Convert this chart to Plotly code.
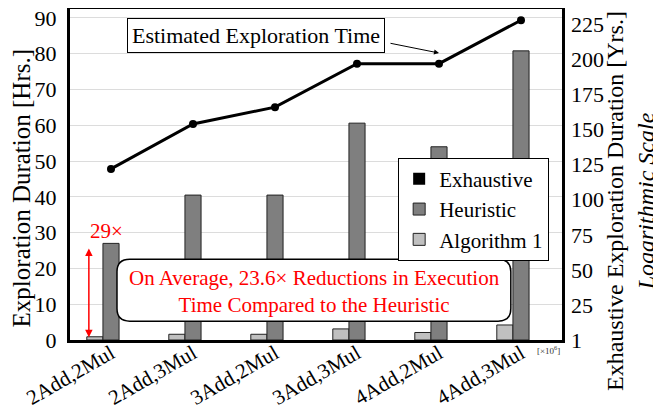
import plotly.graph_objects as go

categories = ["2Add,2Mul", "2Add,3Mul", "3Add,2Mul", "3Add,3Mul", "4Add,2Mul", "4Add,3Mul"]
heuristic_hrs = [27.0, 40.5, 40.5, 60.6, 54.0, 80.8]
algorithm1_hrs = [0.9, 1.6, 1.6, 3.1, 2.1, 4.2]
exhaustive_yrs = [122, 154, 166, 197, 197, 228]
exhaustive_bar_placeholder = [0, 0, 0, 0, 0, 0]
left_tickvals = [0, 10, 20, 30, 40, 50, 60, 70, 80, 90]
right_tickvals = [0, 25, 50, 75, 100, 125, 150, 175, 200, 225]
right_ticktext = ["1", "25", "50", "75", "100", "125", "150", "175", "200", "225"]

FONT = "Liberation Serif"

fig = go.Figure()
fig.add_trace(go.Bar(x=categories, y=algorithm1_hrs, name="Algorithm 1",
                     marker=dict(color="#c0c0c0", line=dict(color="#222", width=1)),
                     legendrank=3))
fig.add_trace(go.Bar(x=categories, y=heuristic_hrs, name="Heuristic",
                     marker=dict(color="#7f7f7f", line=dict(color="#222", width=1)),
                     legendrank=2))
fig.add_trace(go.Bar(x=categories, y=exhaustive_bar_placeholder, name="Exhaustive",
                     marker=dict(color="#000000", line=dict(color="#000", width=0)),
                     legendrank=1))
fig.add_trace(go.Scatter(x=categories, y=exhaustive_yrs, yaxis="y2", mode="lines+markers",
                         line=dict(color="black", width=3), marker=dict(size=8, color="black"),
                         showlegend=False))

# rounded box for the red note (paper coords)
x0, x1, y0, y1 = 0.0955, 0.896, 0.057, 0.244
rx, ry = 0.026, 0.038
path = (f"M {x0+rx},{y0} L {x1-rx},{y0} Q {x1},{y0} {x1},{y0+ry} L {x1},{y1-ry} "
        f"Q {x1},{y1} {x1-rx},{y1} L {x0+rx},{y1} Q {x0},{y1} {x0},{y1-ry} "
        f"L {x0},{y0+ry} Q {x0},{y0} {x0+rx},{y0} Z")
fig.add_shape(type="path", path=path, xref="paper", yref="paper",
              line=dict(color="black", width=1.5), fillcolor="white", layer="above")

C = dict(xanchor="center", yanchor="middle")
ann = []
ann.append(dict(xref="paper", yref="paper", x=0.496, y=0.148,
                text="On Average, 23.6× Reductions in Execution<br>Time Compared to the Heuristic",
                showarrow=False, font=dict(family=FONT, size=21, color="red"), **C))
ann.append(dict(xref="x", yref="y", x=-0.06, y=30.4, text="29×", showarrow=False,
                font=dict(family=FONT, size=21, color="red"), **C))
ann.append(dict(xref="x", yref="y", x=-0.27, y=0.8, ax=-0.27, ay=26.0, axref="x", ayref="y",
                text="", showarrow=True, arrowhead=2, arrowside="end+start", arrowsize=1,
                arrowwidth=1.5, arrowcolor="red"))
ann.append(dict(xref="paper", yref="paper", x=0.378, y=0.919, text="Estimated Exploration Time",
                showarrow=False, bgcolor="white", bordercolor="black", borderwidth=1, borderpad=4,
                font=dict(family=FONT, size=22, color="black"), **C))
ann.append(dict(xref="x", yref="y", x=4, y=80.2, ax=3.39, ay=83.0, axref="x", ayref="y",
                text="", showarrow=True, arrowhead=2, arrowsize=1, arrowwidth=1,
                arrowcolor="black"))
ann.append(dict(xref="paper", yref="paper", x=0.972, y=-0.03, text="[×10<sup>6</sup>]",
                showarrow=False, font=dict(family=FONT, size=9, color="#333"), **C))
ann.append(dict(xref="paper", yref="paper", x=-0.0996, y=0.458, text="Exploration Duration [Hrs.]",
                textangle=-90, showarrow=False, font=dict(family=FONT, size=25, color="black"), **C))
ann.append(dict(xref="paper", yref="paper", x=(631 - 70) / 492, y=0.42,
                text="Exhaustive Exploration Duration [Yrs.]<br><i>Logarithmic Scale</i>",
                textangle=-90, showarrow=False, font=dict(family=FONT, size=24, color="black"), **C))

# page body has an 8px default margin, so the figure is sized/offset to compensate
fig.update_layout(
    width=653, height=402,
    margin=dict(l=62, r=99, t=1, b=70, autoexpand=False),
    paper_bgcolor="white", plot_bgcolor="white",
    barmode="group", bargap=0.41, bargroupgap=0,
    font=dict(family=FONT, size=22, color="black"),
    xaxis=dict(tickangle=-30, showline=True, linecolor="black", linewidth=3, mirror=True,
               ticks="", showgrid=False, tickfont=dict(size=21), ticklabelstandoff=-10,
               automargin=False, ticklabeloverflow="allow"),
    yaxis=dict(range=[0, 92.5], tickvals=left_tickvals, showline=True, linecolor="black",
               linewidth=3, mirror=True, showgrid=True, gridcolor="#dcdcdc", gridwidth=1,
               ticks="", zeroline=False, tickfont=dict(size=22), ticklabelstandoff=6,
               automargin=False, ticklabeloverflow="allow"),
    yaxis2=dict(range=[0, 236], overlaying="y", side="right", tickvals=right_tickvals,
                ticktext=right_ticktext, showgrid=False, zeroline=False, showline=False,
                ticks="", tickfont=dict(size=22), ticklabelstandoff=8, automargin=False,
                ticklabeloverflow="allow"),
    legend=dict(x=0.667, y=0.551, xanchor="left", yanchor="top", bgcolor="white",
                bordercolor="black", borderwidth=1, font=dict(size=21), itemwidth=30,
                traceorder="normal", tracegroupgap=0),
    annotations=ann,
)

fig.write_html("out.html")
